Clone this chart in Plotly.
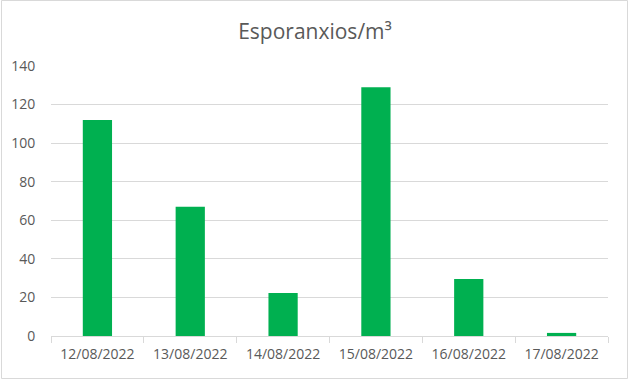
import plotly.graph_objects as go

categories = ["12/08/2022", "13/08/2022", "14/08/2022", "15/08/2022", "16/08/2022", "17/08/2022"]
values = [112, 67, 22.3, 129, 29.5, 1.6]
y_ticks = [0, 20, 40, 60, 80, 100, 120, 140]

FONT = "Open Sans"
GREY = "#595959"

fig = go.Figure(
    go.Bar(x=categories, y=values, marker_color="#00B050", marker_line_width=0)
)

fig.update_layout(
    width=630,
    height=380,
    margin=dict(l=51, r=22, t=66, b=44),
    paper_bgcolor="white",
    plot_bgcolor="white",
    bargap=0.685,
    showlegend=False,
    font=dict(family=FONT, color=GREY, size=14),
    title=dict(
        text="Esporanxios/m³",
        x=0.5,
        xanchor="center",
        y=1 - 32 / 380,
        yanchor="middle",
        font=dict(family=FONT, size=21, color=GREY),
    ),
    shapes=[
        dict(
            type="rect", xref="paper", yref="paper",
            x0=-51 / 557 + 1.5 / 557, x1=1 + 19.5 / 557,
            y0=-42.5 / 270, y1=1 + 65.5 / 270,
            line=dict(color="#D9D9D9", width=1),
        )
    ],
)

fig.update_xaxes(
    type="category",
    showgrid=False,
    showline=True,
    linecolor="#D9D9D9",
    linewidth=1,
    ticks="outside",
    tickson="boundaries",
    ticklen=6,
    tickcolor="#D9D9D9",
    ticklabelstandoff=5,
    tickfont=dict(family=FONT, size=14, color=GREY),
    fixedrange=True,
)

fig.update_yaxes(
    range=[0, 140],
    tickvals=y_ticks,
    showgrid=True,
    gridcolor="#D9D9D9",
    gridwidth=1,
    zeroline=False,
    showline=False,
    ticks="outside",
    ticklen=12,
    tickcolor="rgba(0,0,0,0)",
    tickfont=dict(family=FONT, size=14, color=GREY),
    fixedrange=True,
)

fig.write_html("out.html")
